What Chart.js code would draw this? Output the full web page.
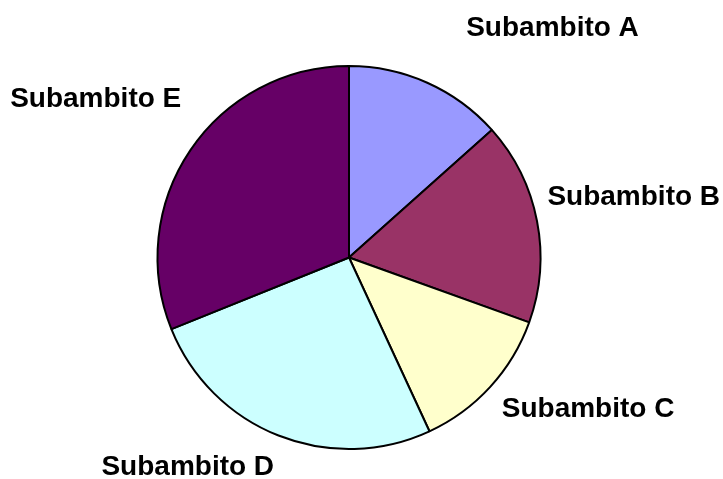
<!DOCTYPE html>
<html>
<head>
<meta charset="utf-8">
<script src="https://cdn.jsdelivr.net/npm/chart.js@4.4.0/dist/chart.umd.min.js"></script>
<style>
  html, body { margin: 0; padding: 0; background: #fff; }
  #wrap { width: 723px; height: 479px; }
</style>
</head>
<body>
<div id="wrap"><canvas id="pieChart" width="723" height="479"></canvas></div>
<script>
// data (shares of the pie, clockwise from 12 o'clock)
const categories = ['Subambito A', 'Subambito B', 'Subambito C', 'Subambito D', 'Subambito E'];
const shares = [13.4, 17.1, 12.6, 25.8, 31.1];
const sliceColors = ['#9999FF', '#993366', '#FFFFCC', '#CCFFFF', '#660066'];

// how far out each label sits (multiple of the radius) and a small angle nudge in degrees
const labelDist = [1.6, 1.52, 1.48, 1.38, 1.56];
const labelTurn = [17.5, -1, -10, 16, -2];

const outsideLabels = {
  id: 'outsideLabels',
  afterDatasetsDraw(chart) {
    const ctx = chart.ctx;
    const arcs = chart.getDatasetMeta(0).data;
    ctx.save();
    ctx.font = 'bold 28px "Liberation Sans", Arial, sans-serif';
    ctx.fillStyle = '#000';
    ctx.textAlign = 'center';
    ctx.textBaseline = 'middle';
    arcs.forEach((arc, i) => {
      const mid = (arc.startAngle + arc.endAngle) / 2 + labelTurn[i] * Math.PI / 180;
      const r = arc.outerRadius * labelDist[i];
      ctx.fillText(categories[i], arc.x + Math.cos(mid) * r, arc.y + Math.sin(mid) * r);
    });
    ctx.restore();
  }
};

new Chart(document.getElementById('pieChart').getContext('2d'), {
  type: 'pie',
  data: {
    labels: categories,
    datasets: [{
      data: shares,
      backgroundColor: sliceColors,
      borderColor: '#000',
      borderWidth: 2
    }]
  },
  options: {
    responsive: false,
    animation: false,
    layout: { padding: { top: 65, bottom: 29, left: 100, right: 125 } },
    plugins: {
      legend: { display: false },
      tooltip: { enabled: false }
    }
  },
  plugins: [outsideLabels]
});
</script>
</body>
</html>
